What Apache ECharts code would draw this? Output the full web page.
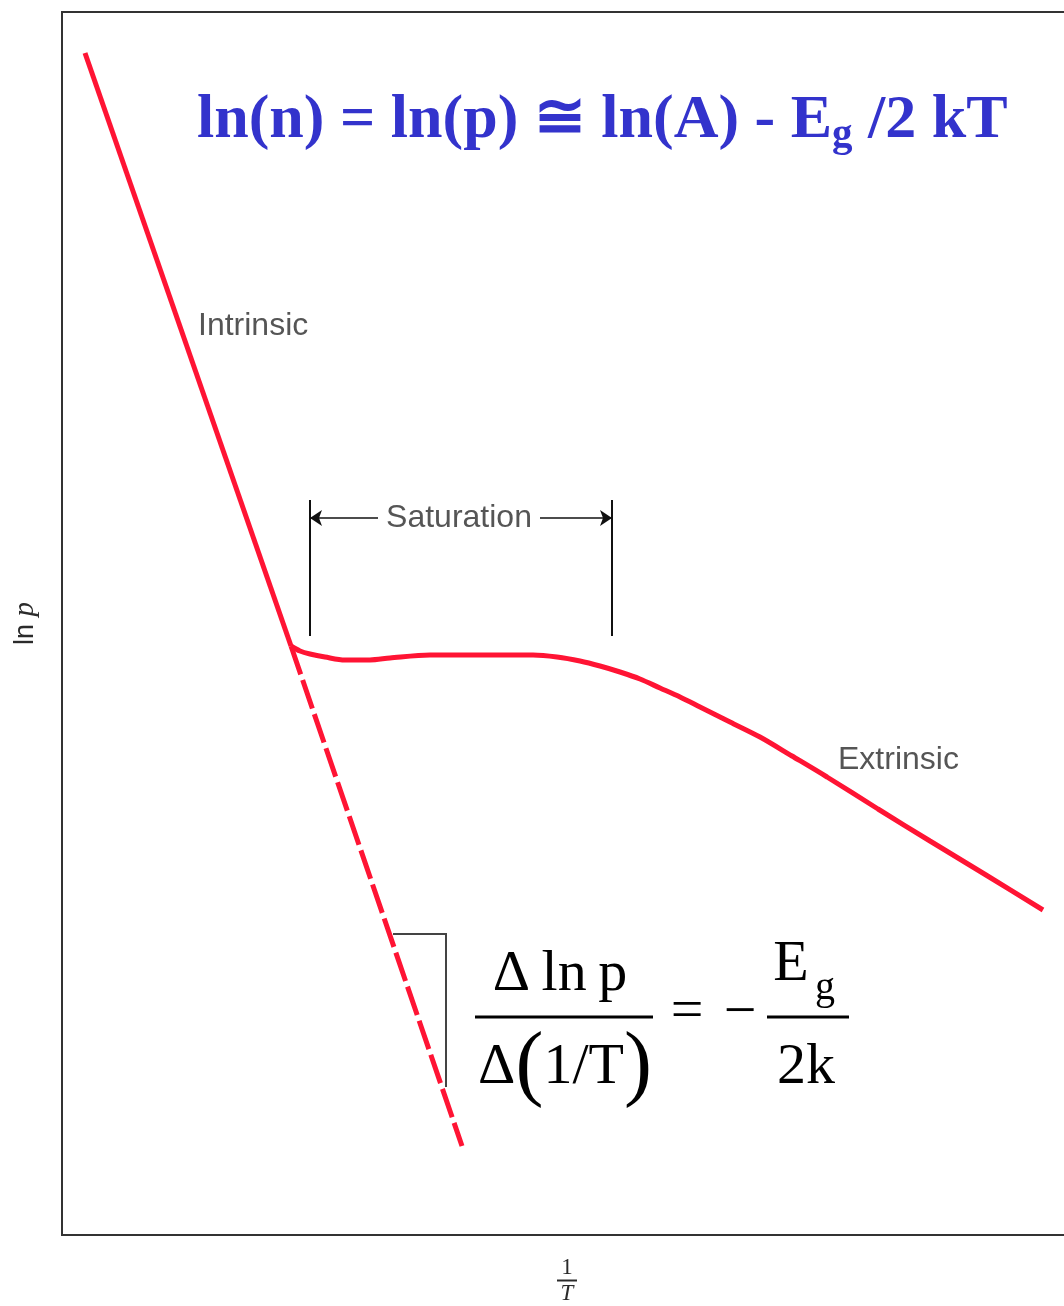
<!DOCTYPE html>
<html>
<head>
<meta charset="utf-8">
<script src="https://cdn.jsdelivr.net/npm/echarts@6/dist/echarts.min.js"></script>
<style>
  html, body { margin: 0; padding: 0; background: #fff; }
  #chart { width: 1064px; height: 1306px; }
</style>
</head>
<body>
<div id="chart"></div>
<script>
// Carrier concentration vs inverse temperature (arbitrary units: x = 1/T, y = ln p)

// Intrinsic region (solid) and its extrapolation (dashed)
const intrinsicLine = [[2.3, 118.2], [22.9, 58.9]];
const intrinsicExtrapolated = [[22.9, 58.9], [40.0, 8.9]];

// Saturation plateau followed by the extrinsic (freeze-out) branch
const saturationExtrinsic = [
  [22.9, 58.9], [23.8, 58.4], [24.8, 58.1], [26.3, 57.8], [28.3, 57.5],
  [30.8, 57.5], [32.8, 57.7], [36.8, 58.0], [41.8, 58.0], [47.1, 58.0],
  [49.5, 57.8], [51.8, 57.4], [53.8, 56.9], [55.8, 56.3], [57.8, 55.6],
  [59.8, 54.7], [61.8, 53.8], [63.8, 52.8], [66.8, 51.3], [69.8, 49.8],
  [73.0, 47.9], [76.5, 45.8], [81.6, 42.6], [86.8, 39.4], [92.4, 36.0],
  [98.1, 32.5]
];

// Saturation range markers
const saturationBounds = [24.8, 55.0];
const saturationBracketY = [59.9, 73.5];
const saturationArrowY = 71.7;
const saturationArrowInner = [31.6, 47.8];

// Slope triangle on the extrapolated line
const slopeTriangle = [[33.1, 30.1], [38.4, 30.1], [38.4, 14.8]];

// Region labels
const regionLabels = [
  { name: 'Intrinsic', value: [13.6, 90.9], align: 'left' },
  { name: 'Saturation', value: [39.7, 71.7], align: 'center' },
  { name: 'Extrinsic', value: [77.6, 47.5], align: 'left' }
];

const RED = '#ff1434';
const INK = '#2b2b2b';
const BLUE = '#3333cc';
const SERIF = '"Liberation Serif", "Times New Roman", serif';
const SANS = '"Liberation Sans", Arial, sans-serif';

const chart = echarts.init(document.getElementById('chart'), null, { renderer: 'canvas' });

const bracketLines = saturationBounds.map(x => ({
  coords: [[x, saturationBracketY[0]], [x, saturationBracketY[1]]]
}));
const arrowLines = [
  { coords: [[saturationArrowInner[0], saturationArrowY], [saturationBounds[0], saturationArrowY]] },
  { coords: [[saturationArrowInner[1], saturationArrowY], [saturationBounds[1], saturationArrowY]] }
];

const option = {
  animation: false,
  backgroundColor: '#fff',
  grid: {
    left: 62, top: 12, width: 1010, height: 1223,
    containLabel: false, outerBoundsMode: 'none',
    show: true, borderColor: '#333', borderWidth: 2, backgroundColor: 'transparent'
  },
  xAxis: {
    type: 'value', min: 0, max: 101,
    axisLine: { show: false }, axisTick: { show: false },
    axisLabel: { show: false }, splitLine: { show: false },
    name: '{n|1}\n{bar|}\n{d|T}',
    nameLocation: 'middle', nameGap: 22,
    nameTextStyle: {
      align: 'center',
      rich: {
        n: { fontFamily: SERIF, fontSize: 23, lineHeight: 21, color: INK, align: 'center' },
        bar: { width: 20, height: 2, lineHeight: 5, backgroundColor: INK, align: 'center' },
        d: { fontFamily: SERIF, fontStyle: 'italic', fontSize: 23, lineHeight: 21, color: INK, align: 'center' }
      }
    }
  },
  yAxis: {
    type: 'value', min: 0, max: 122.3,
    axisLine: { show: false }, axisTick: { show: false },
    axisLabel: { show: false }, splitLine: { show: false },
    name: '{a|ln }{b|p}',
    nameLocation: 'middle', nameGap: 22, nameRotate: 90,
    nameTextStyle: {
      rich: {
        a: { fontFamily: SANS, fontSize: 27, color: INK },
        b: { fontFamily: SERIF, fontStyle: 'italic', fontSize: 29, color: INK }
      }
    }
  },
  series: [
    {
      name: 'Intrinsic', type: 'line', data: intrinsicLine,
      symbol: 'none', lineStyle: { color: RED, width: 5 }, z: 5
    },
    {
      name: 'Intrinsic (extrapolated)', type: 'line', data: intrinsicExtrapolated,
      symbol: 'none', lineStyle: { color: RED, width: 5, type: [30, 6] }, z: 5
    },
    {
      name: 'Saturation / Extrinsic', type: 'line', data: saturationExtrinsic,
      symbol: 'none', smooth: 0.3, lineStyle: { color: RED, width: 5 }, z: 5
    },
    {
      name: 'Saturation bounds', type: 'lines', coordinateSystem: 'cartesian2d',
      data: bracketLines, symbol: 'none',
      lineStyle: { color: '#111', width: 2, opacity: 1 }, z: 4
    },
    {
      name: 'Saturation arrows', type: 'lines', coordinateSystem: 'cartesian2d',
      data: arrowLines, symbol: ['none', 'arrow'], symbolSize: [8, 12],
      lineStyle: { color: '#111', width: 1.5, opacity: 1 }, z: 4
    },
    {
      name: 'Slope', type: 'lines', coordinateSystem: 'cartesian2d', polyline: true,
      data: [{ coords: slopeTriangle }], symbol: 'none',
      lineStyle: { color: '#444', width: 2, opacity: 1 }, z: 4
    },
    {
      name: 'Region labels', type: 'scatter', symbolSize: 0,
      data: regionLabels.map(d => ({
        name: d.name, value: d.value,
        label: { align: d.align }
      })),
      label: {
        show: true, position: 'inside', formatter: '{b}',
        fontFamily: SANS, fontSize: 32, color: '#2a2a2a', verticalAlign: 'middle'
      },
      z: 6
    }
  ],
  graphic: [
    {
      type: 'text', x: 197, y: 121,
      style: {
        text: '{m|ln(n) = ln(p) \u2245 ln(A) - E}{s|g}{m| /2 kT}',
        align: 'left', verticalAlign: 'middle',
        rich: {
          m: { fontFamily: SERIF, fontWeight: 'bold', fontSize: 62, lineHeight: 70, fill: BLUE },
          s: { fontFamily: SERIF, fontWeight: 'bold', fontSize: 41, lineHeight: 34, verticalAlign: 'bottom', fill: BLUE }
        }
      }
    },
    // Slope relation: Δ ln p / Δ(1/T) = −Eg / 2k
    {
      type: 'text', x: 560, y: 975,
      style: { text: '\u0394\u2009ln\u2009p', fontFamily: SERIF, fontSize: 58, fill: '#000', align: 'center', verticalAlign: 'middle' }
    },
    {
      type: 'line', shape: { x1: 475, y1: 1017, x2: 653, y2: 1017 },
      style: { stroke: '#000', lineWidth: 3 }
    },
    {
      type: 'text', x: 565, y: 1068,
      style: {
        text: '{a|\u0394}{p|(}{a|1/T}{p|)}', align: 'center', verticalAlign: 'middle',
        rich: {
          a: { fontFamily: SERIF, fontSize: 58, fill: '#000' },
          p: { fontFamily: SERIF, fontSize: 84, fill: '#000' }
        }
      }
    },
    {
      type: 'text', x: 687, y: 1013,
      style: { text: '=', fontFamily: SERIF, fontSize: 58, fill: '#000', align: 'center', verticalAlign: 'middle' }
    },
    {
      type: 'text', x: 740, y: 1014,
      style: { text: '\u2212', fontFamily: SERIF, fontSize: 58, fill: '#000', align: 'center', verticalAlign: 'middle' }
    },
    {
      type: 'text', x: 791, y: 965,
      style: { text: 'E', fontFamily: SERIF, fontSize: 58, fill: '#000', align: 'center', verticalAlign: 'middle' }
    },
    {
      type: 'text', x: 825, y: 988,
      style: { text: 'g', fontFamily: SERIF, fontSize: 40, fill: '#000', align: 'center', verticalAlign: 'middle' }
    },
    {
      type: 'line', shape: { x1: 767, y1: 1017, x2: 849, y2: 1017 },
      style: { stroke: '#000', lineWidth: 3 }
    },
    {
      type: 'text', x: 806, y: 1068,
      style: { text: '2k', fontFamily: SERIF, fontSize: 58, fill: '#000', align: 'center', verticalAlign: 'middle' }
    }
  ]
};

chart.setOption(option);
</script>
</body>
</html>
